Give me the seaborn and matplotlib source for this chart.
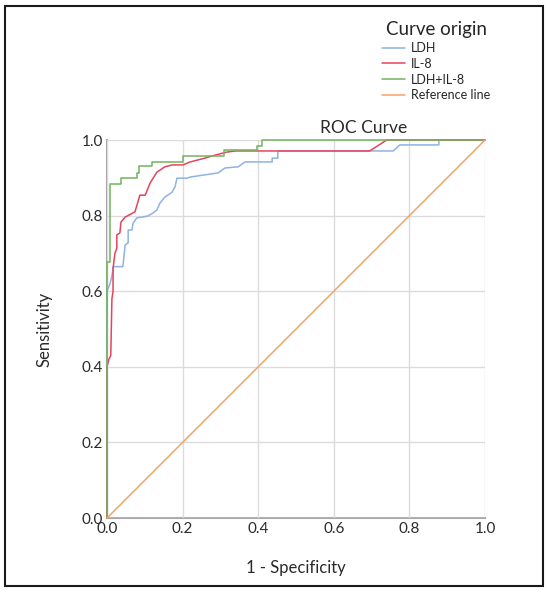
import matplotlib
matplotlib.use("Agg")
import matplotlib.pyplot as plt
import pandas as pd
import seaborn as sns
from matplotlib.patches import Rectangle

sns.set_style("whitegrid")
plt.rcParams['font.family'] = ['Lato', 'DejaVu Sans']

# ROC points
ldh_fpr = [0, 0, 0.008, 0.013, 0.016, 0.016, 0.042, 0.048, 0.056, 0.056, 0.066, 0.069,
           0.079, 0.093, 0.108, 0.122, 0.132, 0.140, 0.153, 0.161, 0.172, 0.180, 0.185,
           0.212, 0.220, 0.294, 0.312, 0.347, 0.365, 0.385, 0.437, 0.437, 0.452, 0.452,
           0.757, 0.775, 0.878, 0.878, 1.0]
ldh_tpr = [0, 0.60, 0.62, 0.64, 0.66, 0.665, 0.665, 0.722, 0.728, 0.762, 0.762, 0.780,
           0.794, 0.796, 0.799, 0.807, 0.815, 0.833, 0.849, 0.854, 0.862, 0.876, 0.899,
           0.899, 0.902, 0.913, 0.926, 0.929, 0.942, 0.942, 0.942, 0.952, 0.952, 0.971,
           0.971, 0.987, 0.987, 1.0, 1.0]

il8_fpr = [0, 0, 0.005, 0.010, 0.013, 0.016, 0.016, 0.021, 0.026, 0.026, 0.034, 0.037,
           0.048, 0.074, 0.087, 0.101, 0.114, 0.122, 0.132, 0.153, 0.172, 0.201, 0.220,
           0.259, 0.286, 0.317, 0.34, 0.695, 0.74, 1.0]
il8_tpr = [0, 0.40, 0.42, 0.43, 0.58, 0.60, 0.66, 0.70, 0.714, 0.749, 0.754, 0.783,
           0.796, 0.81, 0.854, 0.854, 0.886, 0.899, 0.915, 0.929, 0.934, 0.934, 0.942,
           0.952, 0.960, 0.968, 0.971, 0.971, 1.0, 1.0]

combo_fpr = [0, 0, 0.008, 0.008, 0.037, 0.037, 0.08, 0.08, 0.085, 0.085, 0.12, 0.12,
             0.20, 0.20, 0.31, 0.31, 0.397, 0.397, 0.41, 0.41, 1.0]
combo_tpr = [0, 0.677, 0.677, 0.884, 0.884, 0.90, 0.90, 0.913, 0.913, 0.93, 0.93, 0.942,
             0.942, 0.957, 0.957, 0.973, 0.973, 0.985, 0.985, 1.0, 1.0]

ref_fpr = [0, 1.0]
ref_tpr = [0, 1.0]

labels = ["LDH", "IL-8", "LDH+IL-8", "Reference line"]
colors = ["#8db3e2", "#e8435c", "#72b35f", "#fba06a"]
ticks = [0.0, 0.2, 0.4, 0.6, 0.8, 1.0]

frames = []
for lab, xs, ys in zip(labels, [ldh_fpr, il8_fpr, combo_fpr, ref_fpr],
                       [ldh_tpr, il8_tpr, combo_tpr, ref_tpr]):
    frames.append(pd.DataFrame({"fpr": xs, "tpr": ys, "Curve origin": lab}))
df = pd.concat(frames, ignore_index=True)

fig = plt.figure(figsize=(5.48, 5.92), dpi=100)
ax = fig.add_axes([107 / 548, 74 / 592, 378 / 548, 378 / 592])

sns.lineplot(data=df, x="fpr", y="tpr", hue="Curve origin", hue_order=labels,
             palette=dict(zip(labels, colors)), sort=False, estimator=None,
             linewidth=1.1, ax=ax)
for ln in ax.lines:
    ln.set_clip_on(False)

ax.set_xlim(0, 1)
ax.set_ylim(0, 1)
ax.set_xticks(ticks)
ax.set_yticks(ticks)
ax.set_xticklabels([f"{t:.1f}" for t in ticks])
ax.set_yticklabels([f"{t:.1f}" for t in ticks])
ax.tick_params(length=0, labelsize=11, colors="#2a2a2a", pad=3)
ax.grid(True, color="#dcdcdc", linewidth=1)
for s in ["top", "right"]:
    ax.spines[s].set_visible(False)
for s in ["left", "bottom"]:
    ax.spines[s].set_color("#a8a8a8")
    ax.spines[s].set_linewidth(1.5)
    ax.spines[s].set_zorder(0.5)

ax.set_xlabel("1 - Specificity", fontsize=12, color="#2a2a2a")
ax.set_ylabel("Sensitivity", fontsize=12, color="#2a2a2a")
ax.xaxis.set_label_coords(0.5, -0.112)
ax.yaxis.set_label_coords(-0.145, 0.5)
ax.text(0.68, 1.032, "ROC Curve", transform=ax.transAxes, ha="center", va="center",
        fontsize=12.5, color="#2a2a2a")

leg = ax.legend(title="Curve origin", loc="upper center", bbox_to_anchor=(436 / 548, 1 - 10 / 592),
                bbox_transform=fig.transFigure, frameon=False, fontsize=9,
                title_fontsize=13.5, handlelength=1.8, labelspacing=0.3, handletextpad=0.5)

fig.patches.append(Rectangle((5 / 548, 6 / 592), 538 / 548, 580 / 592, transform=fig.transFigure,
                             fill=False, edgecolor="#1a1a1a", linewidth=1.5))

plt.savefig("out.png", dpi=100)
